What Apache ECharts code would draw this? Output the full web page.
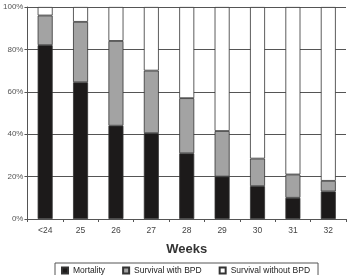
<!DOCTYPE html>
<html>
<head>
<meta charset="utf-8">
<script src="https://cdn.jsdelivr.net/npm/echarts@6/dist/echarts.min.js"></script>
<style>
  html, body { margin: 0; padding: 0; background: #fff; }
  #chart { width: 349px; height: 275px; }
</style>
</head>
<body>
<div id="chart"></div>
<script>
// 胎龄分组
const weeks = ["<24", "25", "26", "27", "28", "29", "30", "31", "32"];
// 各组百分比
const mortality = [82, 64.5, 44, 40.5, 31, 20, 15.5, 10, 13];
const survivalWithBPD = [14, 28.5, 40, 29.5, 26, 21.5, 13, 11, 5];
const survivalWithoutBPD = [4, 7, 16, 30, 43, 58.5, 71.5, 79, 82];
const yTicks = [0, 20, 40, 60, 80, 100];

const chart = echarts.init(document.getElementById("chart"));
const font = "Liberation Sans, Arial, sans-serif";
const border = { borderColor: "#333", borderWidth: 0.8 };

chart.setOption({
  animation: false,
  textStyle: { fontFamily: font },
  grid: { left: 24.5, right: 3, top: 7, bottom: 56 },
  legend: {
    left: 55,
    top: 263,
    itemWidth: 6,
    itemHeight: 6,
    itemGap: 17,
    padding: [3, 8, 6, 6],
    borderColor: "#555",
    borderWidth: 1,
    icon: "rect",
    textStyle: { fontSize: 8.5, color: "#222", fontFamily: font },
    data: ["Mortality", "Survival with BPD", "Survival without BPD"]
  },
  xAxis: {
    type: "category",
    data: weeks,
    name: "Weeks",
    nameLocation: "middle",
    nameGap: 24,
    nameTextStyle: { fontSize: 13, fontWeight: "bold", color: "#333", fontFamily: font },
    axisLine: { lineStyle: { color: "#555" } },
    axisTick: { show: true, length: 3, lineStyle: { color: "#555" } },
    axisLabel: { fontSize: 8.5, color: "#444", margin: 7 }
  },
  yAxis: {
    type: "value",
    min: yTicks[0],
    max: yTicks[yTicks.length - 1],
    interval: 20,
    axisLine: { show: true, lineStyle: { color: "#555" } },
    axisTick: { show: true, length: 3, lineStyle: { color: "#555" } },
    axisLabel: { formatter: "{value}%", fontSize: 8, color: "#555", margin: 4 },
    splitLine: { lineStyle: { color: "#555", width: 1 } }
  },
  series: [
    {
      name: "Mortality", type: "bar", stack: "all", barWidth: 15,
      itemStyle: Object.assign({ color: "#1c1a1a" }, border),
      data: mortality
    },
    {
      name: "Survival with BPD", type: "bar", stack: "all", barWidth: 15,
      itemStyle: Object.assign({ color: "#a3a3a3" }, border),
      data: survivalWithBPD
    },
    {
      name: "Survival without BPD", type: "bar", stack: "all", barWidth: 15,
      itemStyle: Object.assign({ color: "#ffffff" }, border),
      data: survivalWithoutBPD
    }
  ]
});
</script>
</body>
</html>
